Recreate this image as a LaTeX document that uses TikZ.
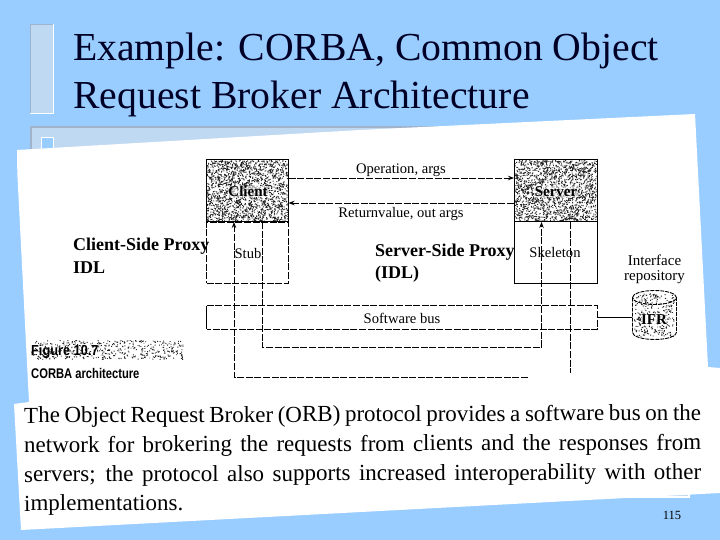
\documentclass[tikz,border=0pt]{standalone}
\usepackage{fontspec}
\setmainfont{Liberation Serif}
\newfontfamily\capfont{Liberation Sans}
\usetikzlibrary{shapes.geometric,arrows.meta}
\definecolor{slidebg}{HTML}{99CCFF}
\definecolor{panel}{HTML}{C0D9F3}
\definecolor{edgegray}{HTML}{9FB4CC}
\newcommand{\stipplebox}[5]{%
  \fill[black!85] \foreach \i [evaluate=\i as \sx using {#1+(#3-1)*rnd}, evaluate=\i as \sy using {#2+(#4-1)*rnd}] in {1,...,#5} {(\sx,\sy) rectangle ++(0.95,0.95)};}
\newcommand{\fitline}[1]{\makebox[677pt][s]{#1}}
\tikzset{
  x=1pt,y=-1pt,
  dashy/.style={line width=0.95pt,dash pattern=on 7pt off 1.6pt},
  solidy/.style={line width=1pt},
  tip/.style={-{Stealth[length=6pt,width=4.5pt]}},
  boxnode/.style={draw=none,inner sep=0pt,minimum width=82pt},
  dlabel/.style={font=\fontsize{14.6}{15}\selectfont,inner sep=0pt},
  inlabel/.style={font=\fontsize{15}{16}\selectfont\bfseries,inner sep=0.5pt,fill=white,fill opacity=0.55,text opacity=1},
  proxy/.style={font=\fontsize{18}{19}\selectfont\bfseries,inner sep=0pt,anchor=base west},
  titletext/.style={font=\fontsize{39.7}{40}\selectfont,inner sep=0pt,anchor=base west,text=black!85!blue},
  bodyline/.style={font=\fontsize{23}{24}\selectfont,inner sep=0pt,anchor=base west,rotate=0.22},
  drumline/.style={line width=0.9pt,dash pattern=on 4pt off 1pt},
}
\begin{document}
\begin{tikzpicture}
\pgfmathsetseed{7}
\useasboundingbox (0,0) rectangle (720,540);
\fill[slidebg] (0,0) rectangle (720,540);
% title decoration
\fill[panel] (30,24) rectangle (54,114);
\draw[edgegray,line width=1.5pt] (30.7,114) -- (30.7,24.7) -- (54,24.7);
\draw[white,line width=1.5pt] (30,113.3) -- (53.3,113.3) -- (53.3,24);
% body panel
\fill[panel] (30,126) rectangle (690,497);
\draw[edgegray,line width=2pt] (31,497) -- (31,127) -- (690,127);
\draw[white,line width=1.5pt] (689,127) -- (689,497) -- (30,497);
\fill[slidebg] (41,137) rectangle (54,152);
\draw[white,line width=1.3pt] (41.5,152) -- (41.5,137.5) -- (53.5,137.5) -- (53.5,152);
% paper
\fill[white] (17,150) -- (360,130) -- (695,114) -- (708,367) -- (720,368) -- (720,493) -- (21,530) -- (14,404) -- (29,402) -- (17.3,173) -- cycle;
% title
\node[titletext] (title1) at (73,61) {Example: CORBA, Common Object};
\node[titletext] (title2) at (73,109) {Request Broker Architecture};
% stipples
\stipplebox{206.5}{160}{82}{62}{1900}
\stipplebox{514}{160}{83}{62}{1900}
\stipplebox{634}{293}{41}{44}{300}
\stipplebox{31}{340}{153}{20}{500}
% boxes
\node[boxnode,minimum height=62pt,draw,solidy] (client) at (247.5,191) {};
\node[boxnode,minimum height=61pt,draw,dashy] (stub) at (247.5,252.5) {};
\node[boxnode,minimum width=83pt,minimum height=62pt,draw,solidy] (server) at (555.5,191) {};
\node[boxnode,minimum width=83pt,minimum height=61pt,draw,solidy] (skel) at (555.5,252.5) {};
\node[inlabel] (clientl) at (248,191.5) {Client};
\node[inlabel] (serverl) at (556,191.5) {Server};
\node[dlabel] (stubl) at (248,254) {Stub};
\node[dlabel] (skell) at (555,253) {Skeleton};
% bus
\node[boxnode,minimum width=390pt,minimum height=23pt] (bus) at (402,317.5) {};
\draw[solidy] (bus.north west) -- (bus.south west);
\draw[dashy] (bus.north west) -- (bus.north east) -- (bus.south east) -- (bus.south west);
\node[dlabel] (busl) at (402,318) {Software bus};
% repository
\node[inner sep=0pt,minimum width=45pt,minimum height=50pt] (ifr) at (654.5,315) {};
\draw[drumline] (632.5,297.5) arc[start angle=180,end angle=-180,x radius=22pt,y radius=7pt];
\draw[drumline] (632.5,297.5) -- (632.5,332.5) arc[start angle=180,end angle=360,x radius=22pt,y radius=7pt] -- (676.5,297.5);
\node[inlabel] (ifrl) at (654,320) {IFR};
\node[dlabel,align=center,font=\fontsize{15}{15}\selectfont] (repo) at (654.5,269.5) {Interface\\repository};
\draw[line width=1.2pt] (bus.east) -- (bus.east -| ifr.west);
% request and reply
\coordinate (c1) at (288.5,178);
\coordinate (s1) at (514,178);
\coordinate (c2) at (288.5,203);
\coordinate (s2) at (514,203);
\draw[dashy,tip] (c1) -- (s1);
\draw[dashy,tip] (s2) -- (c2);
\node[dlabel] (op) at (401,170) {Operation, args};
\node[dlabel] (ret) at (401,214.5) {Returnvalue, out args};
% vertical routes
\coordinate (a0) at (234,222);
\coordinate (a1) at (234,377);
\coordinate (a2) at (528,377);
\coordinate (b0) at (262,222);
\coordinate (b1) at (262,347);
\coordinate (b2) at (541.5,347);
\coordinate (b3) at (541.5,222);
\coordinate (d0) at (570,222);
\coordinate (d1) at (570,373);
\draw[dashy,tip] (a2) -- (a1) -- (a0);
\draw[dashy,tip] (b0) -- (b1) -- (b2) -- (b3);
\draw[dashy] (d0) -- (d1);
% overlays
\node[proxy] (cp) at (73,251) {Client-Side Proxy};
\node[proxy] (cpi) at (73,273) {IDL};
\node[proxy] (sp) at (375,256) {Server-Side Proxy};
\node[proxy] (spi) at (375,278) {(IDL)};
% caption
\node[inner sep=0pt,anchor=base west,font=\capfont\bfseries\fontsize{14.5}{15}\selectfont] (fig) at (31,355) {\scalebox{0.88}[1]{Figure 10.7}};
\node[inner sep=0pt,anchor=base west,font=\capfont\bfseries\fontsize{14}{15}\selectfont] (arch) at (31,378) {\scalebox{0.8}[1]{CORBA architecture}};
% body text
\node[bodyline] (l1) at (24,423) {\fitline{The Object Request Broker (ORB) protocol provides a software bus on the}};
\node[bodyline] (l2) at (24,452.5) {\fitline{network for brokering the requests from clients and the responses from}};
\node[bodyline] (l3) at (24,482) {\fitline{servers; the protocol also supports increased interoperability with other}};
\node[bodyline] (l4) at (24,511) {implementations.};
\node[inner sep=0pt,font=\fontsize{12.5}{13}\selectfont] (pg) at (672,515) {115};
\end{tikzpicture}
\end{document}
